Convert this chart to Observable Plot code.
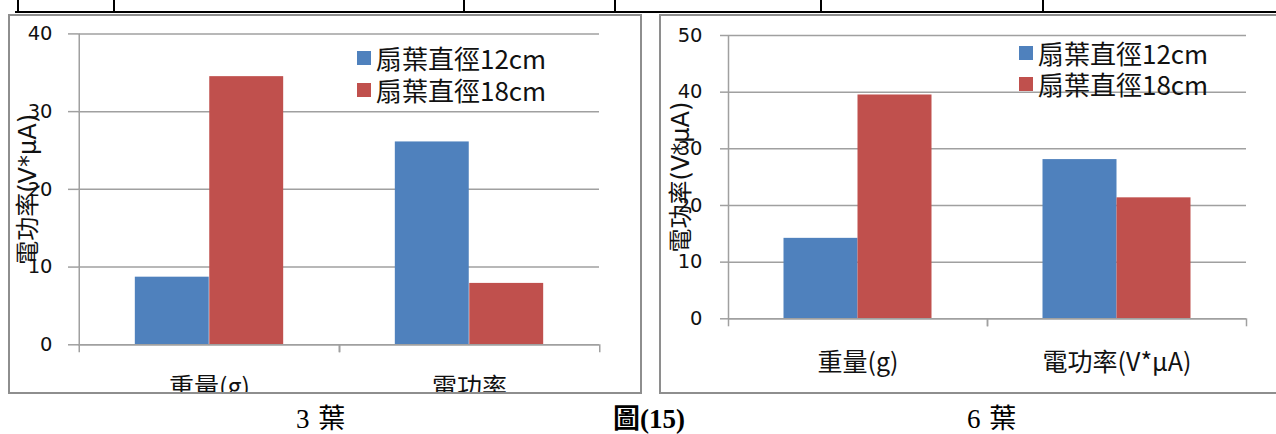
<!DOCTYPE html>
<html>
<head>
<meta charset="utf-8">
<script src="https://cdn.jsdelivr.net/npm/d3@7"></script>
<script src="https://cdn.jsdelivr.net/npm/@observablehq/plot@0.6"></script>
<style>
  html, body { margin: 0; padding: 0; background: #fff; }
  body { position: relative; width: 1276px; height: 434px; overflow: hidden; font-family: "DejaVu Sans", "Noto Sans CJK TC", sans-serif; }
  .hline { position: absolute; left: 15px; right: 0; top: 11px; height: 2px; background: #000; }
  .vline { position: absolute; top: 0; width: 2px; height: 12px; background: #000; }
  .panel { position: absolute; top: 14px; height: 380px; box-sizing: border-box; border: 2px solid #8e8e8e; overflow: hidden; background: #fff; }
  .panel > svg { position: absolute; left: 0; top: 0; overflow: visible; }
  .legendbox { position: absolute; width: 260px; }
  .legendbox .lg-swatch { height: var(--pitch); padding: 0 !important; margin: 0 !important; display: flex; align-items: center; }
  .legendbox .lg-swatch svg { margin-right: 5px !important; flex-shrink: 0; }
  .legendbox .lg-swatch-label { line-height: 1.15 !important; overflow: visible !important; }
  .legendbox .lg-swatches { margin: 0 !important; font-family: "Noto Sans CJK TC", sans-serif !important; font-size: 26px !important; color: #111; }
  .caption { position: absolute; top: 404px; line-height: 30px; font-size: 27px; text-align: center; font-family: "Liberation Serif", "Noto Sans CJK TC", serif; color: #000; white-space: pre; letter-spacing: 1px; }
  g[aria-label="ytitle"] text { letter-spacing: 1.8px; }
</style>
</head>
<body>
<div class="hline"></div>
<div id="vlines"></div>
<div class="panel" id="p3" style="left:8px; width:634px;"></div>
<div class="panel" id="p6" style="left:659px; width:640px;"></div>
<div class="caption" style="left:271px; width:100px;">3 葉</div>
<div class="caption" style="left:599px; width:100px; font-weight:bold; letter-spacing:0;">圖(15)</div>
<div class="caption" style="left:942px; width:100px;">6 葉</div>
<script>
// ---- data ----
const seriesNames = ["扇葉直徑12cm", "扇葉直徑18cm"];
const seriesColors = ["#4F81BD", "#C0504D"];
const yTitle = "電功率(V*μA)";

const categories3 = ["重量(g)", "電功率"];
const values3_12cm = [8.7, 26.1];
const values3_18cm = [34.5, 7.9];
const yTicks3 = [0, 10, 20, 30, 40];

const categories6 = ["重量(g)", "電功率(V*μA)"];
const values6_12cm = [14.2, 28.1];
const values6_18cm = [39.5, 21.35];
const yTicks6 = [0, 10, 20, 30, 40, 50];

const tableLineX = [17, 113, 463, 614, 820, 1042];

// table remnants
const vl = document.getElementById("vlines");
for (const x of tableLineX) {
  const d = document.createElement("div");
  d.className = "vline";
  d.style.left = x + "px";
  vl.appendChild(d);
}

const GRAY = "#a0a0a0";
const FONT = "'DejaVu Sans', 'Noto Sans CJK TC', sans-serif";

function makeChart(el, cfg) {
  const {cats, v12, v18, ticks, width, height, ml, mr, mt, mb, tickSize, catPad, titleDx, legendLeft, legendTop, pitch} = cfg;
  const yMax = ticks[ticks.length - 1];
  const step = (width - ml - mr) / cats.length;
  const bw = step / 3.5;
  const rows12 = cats.map((c, i) => ({cat: c, series: seriesNames[0], value: v12[i]}));
  const rows18 = cats.map((c, i) => ({cat: c, series: seriesNames[1], value: v18[i]}));
  const chart = Plot.plot({
    width, height,
    marginLeft: ml, marginRight: mr, marginTop: mt, marginBottom: mb,
    style: {fontFamily: FONT, background: "transparent", overflow: "visible"},
    x: {domain: cats, padding: 0, axis: null},
    y: {domain: [0, yMax], axis: null},
    color: {domain: seriesNames, range: seriesColors},
    marks: [
      Plot.gridY(ticks, {stroke: GRAY, strokeOpacity: 1, strokeWidth: 1.5}),
      Plot.axisY(ticks, {tickSize, tickPadding: 26 - tickSize, stroke: GRAY, strokeWidth: 1.5, fill: "#111", fontSize: 19.5, label: null}),
      Plot.barY(rows12, {x: "cat", y: "value", fill: "series", insetLeft: 0.75 * bw, insetRight: 1.75 * bw}),
      Plot.barY(rows18, {x: "cat", y: "value", fill: "series", insetLeft: 1.75 * bw, insetRight: 0.75 * bw}),
      Plot.ruleY([0], {stroke: GRAY, strokeWidth: 1.5}),
      Plot.ruleX([cats[0]], {y1: 0, y2: yMax, dx: -step / 2, stroke: GRAY, strokeWidth: 1.5}),
      Plot.axisX({tickSize: 8, dx: -step / 2, stroke: GRAY, strokeWidth: 1.5, fill: "none", label: null}),
      Plot.axisX({tickSize: 8, dx: step / 2, stroke: GRAY, strokeWidth: 1.5, fill: "none", label: null}),
      Plot.axisX({tickSize: 0, tickPadding: catPad, fill: "#111", fontSize: 25, fontFamily: "'Noto Sans CJK TC', sans-serif", label: null}),
      Plot.text([yTitle], {text: d => d, frameAnchor: "left", textAnchor: "middle", rotate: -90, dx: titleDx, fontSize: 24, fill: "#111", ariaLabel: "ytitle"})
    ]
  });
  el.appendChild(chart);
  const lg = Plot.legend({
    color: {domain: seriesNames, range: seriesColors},
    legend: "swatches",
    columns: 1,
    swatchSize: 14,
    className: "lg"
  });
  const box = document.createElement("div");
  box.className = "legendbox";
  box.style.left = legendLeft + "px";
  box.style.top = legendTop + "px";
  box.style.setProperty("--pitch", pitch + "px");
  box.appendChild(lg);
  el.appendChild(box);
}

makeChart(document.getElementById("p3"), {
  cats: categories3, v12: values3_12cm, v18: values3_18cm, ticks: yTicks3,
  width: 630, height: 376, ml: 68, mr: 41, mt: 17.4, mb: 47.7,
  tickSize: 10, catPad: 33, titleDx: -50.5,
  legendLeft: 347, legendTop: 26.3, pitch: 32
});
makeChart(document.getElementById("p6"), {
  cats: categories6, v12: values6_12cm, v18: values6_18cm, ticks: yTicks6,
  width: 636, height: 376, ml: 67, mr: 51, mt: 19, mb: 73.7,
  tickSize: 8, catPad: 34, titleDx: -47,
  legendLeft: 358, legendTop: 21.5, pitch: 31
});
</script>
</body>
</html>
